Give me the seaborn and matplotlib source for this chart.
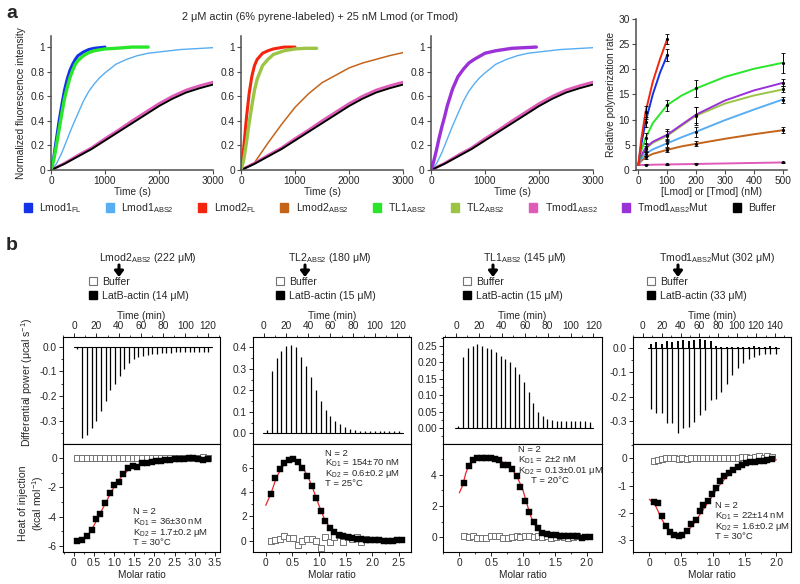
import numpy as np
import pandas as pd
import matplotlib
matplotlib.use("Agg")
import matplotlib.pyplot as plt
import seaborn as sns
from matplotlib.patches import Patch
from matplotlib.lines import Line2D
from matplotlib.ticker import MultipleLocator, FuncFormatter, FormatStrFormatter

# -----------------------------
# Panel a: pyrene-actin polymerization curves (time in s, normalized intensity)
# -----------------------------
lmod1_fl_t = [0, 50, 100, 150, 200, 250, 300, 350, 400, 450, 500, 600, 700, 800, 1000]
lmod1_fl_y = [0, 0.1, 0.25, 0.4, 0.53, 0.65, 0.74, 0.81, 0.86, 0.9, 0.93, 0.96, 0.98, 0.99, 1.0]

tl1_t = [0, 50, 100, 150, 200, 250, 300, 350, 400, 450, 500, 600, 700, 800, 1000, 1200, 1500, 1800]
tl1_y = [0, 0.08, 0.2, 0.33, 0.46, 0.58, 0.67, 0.75, 0.81, 0.86, 0.89, 0.93, 0.955, 0.97, 0.985, 0.99, 1.0, 1.0]

lmod1_abs2_t = [0, 100, 200, 300, 400, 500, 600, 700, 800, 900, 1000, 1200, 1400, 1600, 1800, 2000, 2400, 2800, 3000]
lmod1_abs2_y = [0, 0.05, 0.14, 0.25, 0.36, 0.46, 0.56, 0.64, 0.7, 0.75, 0.79, 0.86, 0.9, 0.93, 0.95, 0.96, 0.98, 0.99, 0.995]

lmod2_fl_t = [0, 25, 50, 75, 100, 150, 200, 250, 300, 400, 500, 600, 800, 1000]
lmod2_fl_y = [0, 0.07, 0.18, 0.3, 0.42, 0.62, 0.76, 0.85, 0.9, 0.95, 0.97, 0.985, 1.0, 1.0]

tl2_t = [0, 50, 100, 150, 200, 250, 300, 400, 500, 600, 800, 1000, 1200, 1400]
tl2_y = [0, 0.08, 0.22, 0.38, 0.52, 0.65, 0.74, 0.85, 0.9, 0.94, 0.97, 0.985, 0.99, 0.99]

slow_t = [0, 250, 500, 750, 1000, 1250, 1500, 1750, 2000, 2250, 2500, 2750, 3000]
lmod2_abs2_y = [0, 0.06, 0.22, 0.37, 0.51, 0.62, 0.71, 0.77, 0.83, 0.87, 0.9, 0.93, 0.955]
buffer_y = [0, 0.05, 0.11, 0.17, 0.24, 0.31, 0.38, 0.45, 0.52, 0.58, 0.63, 0.665, 0.695]
tmod1_abs2_y = [0, 0.055, 0.12, 0.18, 0.255, 0.325, 0.4, 0.47, 0.54, 0.6, 0.65, 0.685, 0.715]

tmod_mut_t = [0, 50, 100, 150, 200, 250, 300, 400, 500, 600, 700, 800, 1000, 1200, 1500, 1950]
tmod_mut_y = [0, 0.07, 0.16, 0.26, 0.35, 0.43, 0.52, 0.66, 0.76, 0.82, 0.87, 0.9, 0.95, 0.97, 0.99, 1.0]

# polymerization rate vs concentration (fitted curves)
conc_fl = [0, 10, 25, 50, 75, 100]
lmod2_fl_rate = [1, 6, 11.5, 17.5, 22, 26]
lmod1_fl_rate = [1, 5, 9.5, 15, 19.3, 22.8]
conc_fit = [0, 10, 25, 50, 100, 150, 200, 300, 400, 500]
tl1_rate = [1, 3.8, 6.3, 9.3, 12.9, 14.8, 16.2, 18.5, 20.1, 21.3]
tmod_mut_rate = [1, 2.8, 4.4, 5.6, 7.0, 9.0, 11.0, 13.8, 15.8, 17.3]
tl2_rate = [1, 2.6, 4.2, 5.4, 6.8, 8.8, 10.8, 13.2, 14.8, 16.0]
lmod1_abs2_rate = [1, 2.2, 3.2, 4.1, 5.3, 6.5, 7.6, 9.9, 12.0, 14.0]
lmod2_abs2_rate = [1, 1.8, 2.5, 3.2, 4.0, 4.7, 5.2, 6.2, 7.1, 7.9]
tmod1_abs2_rate = [1, 1.0, 1.0, 1.05, 1.1, 1.15, 1.2, 1.3, 1.4, 1.5]

# measured points with error bars
pts_fl = [25, 100]
pts = [25, 100, 200, 500]
err_points = {
    "lmod2_fl": (pts_fl, [11.5, 26.0], [1.3, 1.0]),
    "lmod1_fl": (pts_fl, [9.5, 22.8], [1.0, 1.2]),
    "tl1": (pts, [6.3, 12.9, 16.2, 21.3], [1.0, 1.1, 1.7, 2.0]),
    "tmod_mut": (pts, [4.4, 7.0, 11.0, 17.3], [0.8, 1.1, 1.6, 0.7]),
    "tl2": (pts, [4.2, 6.8, 10.8, 16.0], [0.6, 1.0, 1.8, 0.6]),
    "lmod1_abs2": (pts, [3.2, 5.3, 7.6, 14.0], [0.5, 0.8, 1.0, 0.6]),
    "lmod2_abs2": (pts, [2.5, 4.0, 5.2, 7.9], [0.3, 0.4, 0.5, 0.6]),
    "tmod1_abs2": (pts, [1.0, 1.1, 1.2, 1.5], [0.1, 0.1, 0.1, 0.1]),
}

colors = {
    "lmod1_fl": "#1432e6", "lmod1_abs2": "#58aef2", "lmod2_fl": "#f2260f",
    "lmod2_abs2": "#c4641a", "tl1": "#2ae62a", "tl2": "#9cc445",
    "tmod1_abs2": "#e05ab8", "tmod_mut": "#9a32d8", "buffer": "#000000",
}
legend_keys = ["lmod1_fl", "lmod1_abs2", "lmod2_fl", "lmod2_abs2", "tl1", "tl2",
               "tmod1_abs2", "tmod_mut", "buffer"]
legend_labels = ["Lmod1$_{\\mathregular{FL}}$", "Lmod1$_{\\mathregular{ABS2}}$",
                 "Lmod2$_{\\mathregular{FL}}$", "Lmod2$_{\\mathregular{ABS2}}$",
                 "TL1$_{\\mathregular{ABS2}}$", "TL2$_{\\mathregular{ABS2}}$",
                 "Tmod1$_{\\mathregular{ABS2}}$", "Tmod1$_{\\mathregular{ABS2}}$Mut", "Buffer"]

# -----------------------------
# Panel b: ITC data
# -----------------------------
itc_titles = ["Lmod2$_{\\mathregular{ABS2}}$ (222 μM)", "TL2$_{\\mathregular{ABS2}}$ (180 μM)",
              "TL1$_{\\mathregular{ABS2}}$ (145 μM)", "Tmod1$_{\\mathregular{ABS2}}$Mut (302 μM)"]
itc_actin = ["LatB-actin (14 μM)", "LatB-actin (15 μM)", "LatB-actin (15 μM)", "LatB-actin (33 μM)"]

inj_t1 = [3.0, 7.2, 11.4, 15.6, 19.8, 24.0, 28.2, 32.4, 36.6, 40.8, 45.0, 49.2, 53.4, 57.6, 61.8,
          66.0, 70.2, 74.4, 78.6, 82.8, 87.0, 91.2, 95.4, 99.6, 103.8, 108.0, 112.2, 116.4, 120.6]
peak1 = [-0.01, -0.37, -0.36, -0.33, -0.30, -0.26, -0.22, -0.175, -0.15, -0.12, -0.09, -0.065, -0.05,
         -0.042, -0.036, -0.032, -0.03, -0.028, -0.026, -0.025, -0.024, -0.023, -0.022, -0.022,
         -0.021, -0.021, -0.02, -0.02, -0.02]
inj_t2 = [2.8, 7.2, 11.6, 16.0, 20.4, 24.8, 29.2, 33.6, 38.0, 42.4, 46.8, 51.2, 55.6, 60.0, 64.4,
          68.8, 73.2, 77.6, 82.0, 86.4, 90.8, 95.2, 99.6, 104.0, 108.4, 112.8, 117.2, 121.6]
peak2 = [0.015, 0.29, 0.35, 0.385, 0.405, 0.41, 0.40, 0.357, 0.313, 0.26, 0.2, 0.15, 0.11, 0.08,
         0.06, 0.043, 0.03, 0.022, 0.016, 0.013, 0.011, 0.01, 0.01, 0.01, 0.01, 0.01, 0.01, 0.01]
inj_t3 = [2.0, 6.4, 10.5, 14.6, 18.6, 22.7, 26.8, 30.9, 35.0, 39.0, 43.1, 47.2, 51.3, 55.4, 59.4,
          63.5, 67.6, 71.7, 75.8, 79.8, 83.9, 88.0, 92.1, 96.2, 100.2, 104.3, 108.4, 112.5, 116.6]
peak3 = [0.005, 0.215, 0.245, 0.25, 0.255, 0.25, 0.245, 0.24, 0.23, 0.22, 0.21, 0.2, 0.185, 0.165,
         0.14, 0.11, 0.075, 0.05, 0.035, 0.028, 0.025, 0.022, 0.02, 0.02, 0.02, 0.02, 0.02, 0.02, 0.018]
inj_t4 = [8.5, 14.2, 20.0, 25.8, 31.5, 37.2, 43.0, 48.8, 54.5, 60.2, 66.0, 71.8, 77.5, 83.2, 89.0,
          94.8, 100.5, 106.2, 112.0, 117.8, 123.5, 129.2, 135.0, 140.8]
peak4 = [-0.25, -0.27, -0.27, -0.31, -0.31, -0.35, -0.33, -0.325, -0.305, -0.275, -0.255, -0.215,
         -0.21, -0.18, -0.148, -0.11, -0.08, -0.062, -0.044, -0.035, -0.028, -0.025, -0.024, -0.025]
noise4 = [0.02, 0.025, 0.02, 0.03, 0.025, 0.03, 0.035, 0.03, 0.035, 0.04, 0.035, 0.03, 0.01, 0.005,
          0.005, 0.005, 0.005, 0.005, 0.005, 0.01, 0.005, 0.005, 0.01, 0.005]

mr1 = [0.08, 0.21, 0.33, 0.44, 0.55, 0.66, 0.78, 0.9, 1.0, 1.11, 1.23, 1.35, 1.46, 1.57, 1.69, 1.81,
       1.93, 2.05, 2.16, 2.27, 2.39, 2.5, 2.62, 2.73, 2.85, 2.96, 3.08, 3.2, 3.32]
heat1 = [-5.66, -5.6, -5.34, -4.9, -4.2, -3.8, -3.04, -2.4, -1.85, -1.6, -1.05, -0.65, -0.55, -0.6,
         -0.3, -0.3, -0.27, -0.2, -0.2, -0.12, -0.1, -0.05, -0.05, -0.02, 0.0, 0.0, -0.02, -0.15, -0.08]
buf1 = [0, 0, 0, 0, 0, 0, 0, 0, 0, 0, 0, 0, 0, 0, 0.03, 0.0, 0.05, 0.0, 0.03, 0.05, 0.0, 0.05, 0.03,
        0.05, 0.03, 0.0, 0.05, 0.08, 0.0]
fit1_x = [0.05, 0.2, 0.35, 0.5, 0.65, 0.8, 0.95, 1.1, 1.25, 1.4, 1.6, 1.8, 2.1, 2.5, 3.0, 3.4]
fit1_y = [-5.7, -5.6, -5.3, -4.6, -3.8, -3.0, -2.2, -1.55, -1.05, -0.72, -0.45, -0.3, -0.18, -0.08, -0.03, -0.01]

mr2 = [0.09, 0.18, 0.26, 0.35, 0.43, 0.52, 0.6, 0.69, 0.77, 0.86, 0.94, 1.03, 1.11, 1.2, 1.28, 1.37,
       1.45, 1.54, 1.62, 1.71, 1.79, 1.88, 1.96, 2.05, 2.13, 2.22, 2.3, 2.39, 2.47, 2.56]
heat2 = [3.85, 5.18, 5.93, 6.36, 6.66, 6.7, 6.5, 6.0, 5.3, 4.5, 3.5, 2.4, 1.6, 1.05, 0.7, 0.5, 0.35,
         0.28, 0.2, 0.15, 0.1, 0.05, 0.05, 0.03, 0.02, 0.0, 0.0, 0.0, 0.02, 0.05]
buf2 = [0.0, 0.05, 0.1, 0.4, 0.25, 0.25, -0.4, 0.0, 0.1, 0.1, 0.0, -0.6, 0.3, -0.1, 0.3, 0.5, -0.15,
        0.3, 0.1, 0.3, -0.15, 0.1]
fit2_x = [0.0, 0.1, 0.2, 0.3, 0.4, 0.5, 0.6, 0.7, 0.8, 0.9, 1.0, 1.1, 1.2, 1.3, 1.4, 1.6, 1.8, 2.0, 2.3, 2.6]
fit2_y = [2.9, 3.9, 5.2, 6.0, 6.5, 6.7, 6.5, 6.0, 5.2, 4.1, 2.9, 1.8, 1.1, 0.7, 0.45, 0.2, 0.1, 0.05, 0.02, 0.01]

mr3 = [0.08, 0.15, 0.22, 0.28, 0.35, 0.42, 0.49, 0.56, 0.62, 0.69, 0.76, 0.83, 0.9, 0.96, 1.03, 1.1,
       1.17, 1.24, 1.3, 1.37, 1.44, 1.51, 1.58, 1.64, 1.71, 1.78, 1.85, 1.92, 1.98, 2.05]
heat3 = [3.45, 4.6, 4.95, 5.05, 5.1, 5.05, 5.05, 5.0, 4.95, 4.65, 4.65, 4.35, 3.95, 3.25, 2.35, 1.6,
         1.0, 0.6, 0.3, 0.22, 0.15, 0.12, 0.1, 0.08, 0.08, 0.06, 0.08, -0.08, 0.02, 0.02]
buf3 = [0.05, 0.0, 0.05, -0.08, -0.05, -0.05, 0.05, 0.08, 0.05, -0.05, -0.05, 0.0, 0.05, 0.0, 0.05,
        0.05, 0.0, 0.05, 0.0, 0.05, -0.05, 0.0, 0.05, 0.0, -0.05, 0.0, 0.05]
fit3_x = [0.0, 0.05, 0.1, 0.15, 0.2, 0.3, 0.4, 0.5, 0.6, 0.7, 0.8, 0.9, 1.0, 1.05, 1.1, 1.15, 1.2,
          1.3, 1.4, 1.6, 1.8, 2.05]
fit3_y = [2.85, 3.3, 4.1, 4.6, 4.85, 5.05, 5.08, 5.05, 4.95, 4.78, 4.5, 3.95, 3.0, 2.3, 1.6, 1.05,
          0.7, 0.32, 0.18, 0.08, 0.04, 0.02]

mr4 = [0.07, 0.13, 0.2, 0.26, 0.33, 0.39, 0.46, 0.52, 0.59, 0.66, 0.73, 0.79, 0.85, 0.92, 0.98, 1.05,
       1.11, 1.18, 1.25, 1.32, 1.39, 1.46, 1.52, 1.59, 1.66, 1.73, 1.8, 1.86, 1.93]
heat4 = [-1.6, -1.65, -2.1, -2.5, -2.7, -2.8, -2.87, -2.82, -2.68, -2.4, -2.25, -1.92, -1.7, -1.55,
         -1.32, -1.1, -0.82, -0.65, -0.55, -0.42, -0.32, -0.24, -0.18, -0.15, -0.13, -0.1, -0.08,
         -0.06, -0.02]
buf4 = [-0.08, -0.05, -0.03, 0.0, 0.0, 0.0, -0.02, 0.02, -0.03, 0.0, 0.02, 0.03, 0.02, 0.0, 0.02,
        0.02, 0.03, 0.0, 0.02, 0.02, 0.03, 0.05, 0.05, 0.03, 0.05, 0.08, 0.03, 0.08, 0.05]
fit4_x = [0.0, 0.1, 0.2, 0.3, 0.4, 0.5, 0.6, 0.7, 0.8, 0.9, 1.0, 1.1, 1.2, 1.3, 1.4, 1.6, 1.8, 2.0]
fit4_y = [-1.5, -1.75, -2.25, -2.65, -2.85, -2.85, -2.68, -2.4, -2.05, -1.7, -1.35, -1.0, -0.72,
          -0.5, -0.35, -0.18, -0.1, -0.05]

itc_stats = [
    ["N = 2", "K$_{\\mathregular{D1}}$ = 36±30 nM", "K$_{\\mathregular{D2}}$ = 1.7±0.2 μM", "T = 30°C"],
    ["N = 2", "K$_{\\mathregular{D1}}$ = 154±70 nM", "K$_{\\mathregular{D2}}$ = 0.6±0.2 μM", "T = 25°C"],
    ["N = 2", "K$_{\\mathregular{D1}}$ = 2±2 nM", "K$_{\\mathregular{D2}}$ = 0.13±0.01 μM", "     T = 20°C"],
    ["N = 2", "K$_{\\mathregular{D1}}$ = 22±14 nM", "K$_{\\mathregular{D2}}$ = 1.6±0.2 μM", "T = 30°C"],
]

# -----------------------------
# Style
# -----------------------------
sns.set_theme(style="ticks")
plt.rcParams['font.family'] = ['Liberation Sans', 'DejaVu Sans']
plt.rcParams['mathtext.fontset'] = 'custom'
plt.rcParams['mathtext.rm'] = 'Liberation Sans'
plt.rcParams['axes.unicode_minus'] = False
FS = 7.3
plt.rcParams.update({'font.size': FS, 'xtick.labelsize': FS, 'ytick.labelsize': FS,
                     'axes.labelsize': FS, 'legend.fontsize': FS})

W, H = 800, 584
fig = plt.figure(figsize=(8, 5.84), dpi=100)


def px_axes(x0, y0, x1, y1):
    return fig.add_axes([x0 / W, 1 - y1 / H, (x1 - x0) / W, (y1 - y0) / H])


def ftext(x, y, s, **kw):
    return fig.text(x / W, 1 - y / H, s, **kw)


def style_a(ax):
    sns.despine(ax=ax)
    for sp in ["left", "bottom"]:
        ax.spines[sp].set_color("0.3")
        ax.spines[sp].set_linewidth(1.1)
    ax.tick_params(direction="out", length=3, width=0.8, color="0.3", pad=1.5)


ftext(6, 14, "a", fontsize=14, fontweight="bold", va="center")
ftext(320, 17, "2 μM actin (6% pyrene-labeled) + 25 nM Lmod (or Tmod)", fontsize=7.8,
      ha="center", va="center")

ax1 = px_axes(51, 36, 213, 170)
ax2 = px_axes(241, 36, 403, 170)
ax3 = px_axes(431, 36, 593, 170)
ax4 = px_axes(636, 19, 787, 170)

curves = {
    ax1: [(lmod1_abs2_t, lmod1_abs2_y, "lmod1_abs2", 1.0), (slow_t, tmod1_abs2_y, "tmod1_abs2", 2.0),
          (slow_t, buffer_y, "buffer", 1.4), (lmod1_fl_t, lmod1_fl_y, "lmod1_fl", 2.2),
          (tl1_t, tl1_y, "tl1", 2.4)],
    ax2: [(slow_t, lmod2_abs2_y, "lmod2_abs2", 1.1), (slow_t, tmod1_abs2_y, "tmod1_abs2", 2.0),
          (slow_t, buffer_y, "buffer", 1.4), (lmod2_fl_t, lmod2_fl_y, "lmod2_fl", 2.2),
          (tl2_t, tl2_y, "tl2", 2.4)],
    ax3: [(lmod1_abs2_t, lmod1_abs2_y, "lmod1_abs2", 1.0), (slow_t, tmod1_abs2_y, "tmod1_abs2", 2.0),
          (slow_t, buffer_y, "buffer", 1.4), (tmod_mut_t, tmod_mut_y, "tmod_mut", 2.4)],
}
for ax, items in curves.items():
    for t, y, key, lw in items:
        sns.lineplot(x=t, y=y, ax=ax, color=colors[key], linewidth=lw)
    style_a(ax)
    ax.set_xlim(0, 3000)
    ax.set_ylim(0, 1.09)
    ax.set_xticks([0, 1000, 2000, 3000])
    ax.set_yticks([0, 0.2, 0.4, 0.6, 0.8, 1.0])
    ax.set_yticklabels(["0", "0.2", "0.4", "0.6", "0.8", "1"])
    ax.set_xlabel("Time (s)", labelpad=0.5)
    ax.set_ylabel("")
ax1.set_ylabel("Normalized fluorescence intensity", labelpad=3)

rate_curves = [(conc_fit, tmod1_abs2_rate, "tmod1_abs2"), (conc_fit, lmod2_abs2_rate, "lmod2_abs2"),
               (conc_fit, lmod1_abs2_rate, "lmod1_abs2"), (conc_fit, tl2_rate, "tl2"),
               (conc_fit, tmod_mut_rate, "tmod_mut"), (conc_fit, tl1_rate, "tl1"),
               (conc_fl, lmod1_fl_rate, "lmod1_fl"), (conc_fl, lmod2_fl_rate, "lmod2_fl")]
for x, y, key in rate_curves:
    sns.lineplot(x=x, y=y, ax=ax4, color=colors[key], linewidth=1.4)
for key, (x, y, e) in err_points.items():
    ax4.errorbar(x, y, yerr=e, fmt="o", ms=1.3, color="black", elinewidth=0.7, capsize=1.2,
                 capthick=0.6, zorder=5)
style_a(ax4)
ax4.set_xlim(-8, 515)
ax4.set_ylim(0, 30)
ax4.set_xticks([0, 100, 200, 300, 400, 500])
ax4.set_yticks([0, 5, 10, 15, 20, 25, 30])
ax4.set_xlabel("[Lmod] or [Tmod] (nM)", labelpad=0.5)
ax4.set_ylabel("Relative polymerization rate", labelpad=2)

handles = [Patch(facecolor=colors[k], edgecolor=colors[k]) for k in legend_keys]
fig.legend(handles, legend_labels, loc="center", bbox_to_anchor=(400 / W, 1 - 208 / H), ncol=9,
           frameon=False, handlelength=0.75, handleheight=0.9, handletextpad=0.7,
           columnspacing=2.3, fontsize=7.6)

# -----------------------------
# Panel b
# -----------------------------
ftext(6, 246, "b", fontsize=14, fontweight="bold", va="center")

cols = [(63, 220), (253, 411), (443, 602), (633, 791)]
top_xlim = [(-10, 131), (-9.5, 132.2), (-11.4, 127.5), (-10.3, 157)]
top_ylim = [(-0.395, 0.04), (-0.049, 0.448), (-0.049, 0.277), (-0.397, 0.047)]
top_major = [0.1, 0.1, 0.05, 0.1]
top_fmt = ["%.1f", "%.1f", "%.2f", "%.1f"]
bot_xlim = [(-0.27, 3.63), (-0.24, 2.73), (-0.257, 2.24), (-0.257, 2.23)]
bot_ylim = [(-6.43, 0.98), (-0.94, 7.95), (-0.95, 5.98), (-3.44, 0.53)]
bot_major = [2, 2, 2, 1]
inj_t = [inj_t1, inj_t2, inj_t3, inj_t4]
peaks = [peak1, peak2, peak3, peak4]
mrs = [mr1, mr2, mr3, mr4]
heats = [heat1, heat2, heat3, heat4]
bufs = [buf1, buf2, buf3, buf4]
fits = [(fit1_x, fit1_y), (fit2_x, fit2_y), (fit3_x, fit3_y), (fit4_x, fit4_y)]
title_x = [148, 330, 525, 717]
arrow_x = [119, 305, 493, 678]
square_x = [95, 282, 469, 653]
stat_pos = [(133, 512), (325, 453), (518, 450), (715, 506)]


def style_b(ax):
    for sp in ax.spines.values():
        sp.set_visible(True)
        sp.set_color("black")
        sp.set_linewidth(0.8)
    ax.tick_params(which="major", direction="out", length=3, width=0.7, pad=1.5)
    ax.tick_params(which="minor", direction="out", length=1.6, width=0.6)


ratio_fmt = FuncFormatter(lambda v, _: "0" if abs(v) < 1e-9 else "%.1f" % v)

for i, (x0, x1) in enumerate(cols):
    at = px_axes(x0, 337, x1, 444)
    ab = px_axes(x0, 444, x1, 552)

    # thermogram
    t = inj_t[i]
    at.plot([t[0] - 3, t[-1] + 3], [0, 0], color="black", lw=0.8)
    at.vlines(t, 0, peaks[i], color="black", lw=0.9)
    if i == 3:
        at.vlines(t, 0, noise4, color="black", lw=1.4)
    style_b(at)
    at.set_xlim(*top_xlim[i])
    at.set_ylim(*top_ylim[i])
    at.xaxis.tick_top()
    at.xaxis.set_label_position("top")
    at.xaxis.set_major_locator(MultipleLocator(20))
    at.xaxis.set_minor_locator(MultipleLocator(10))
    at.yaxis.set_major_locator(MultipleLocator(top_major[i]))
    at.yaxis.set_minor_locator(MultipleLocator(top_major[i] / 2))
    at.yaxis.set_major_formatter(FormatStrFormatter(top_fmt[i]))
    at.set_xlabel("Time (min)", labelpad=1.5)
    at.tick_params(axis="x", which="both", bottom=False, top=True)

    # binding isotherm
    sns.scatterplot(x=mrs[i][:len(bufs[i])], y=bufs[i], ax=ab, marker="s", s=13, color="white",
                    edgecolor="0.45", linewidth=0.7, zorder=3)
    sns.lineplot(x=fits[i][0], y=fits[i][1], ax=ab, color="#e8262a", linewidth=0.9, zorder=2)
    sns.scatterplot(x=mrs[i], y=heats[i], ax=ab, marker="s", s=14, color="black",
                    edgecolor="black", linewidth=0.3, zorder=4)
    style_b(ab)
    ab.set_xlim(*bot_xlim[i])
    ab.set_ylim(*bot_ylim[i])
    ab.xaxis.set_major_locator(MultipleLocator(0.5))
    ab.xaxis.set_minor_locator(MultipleLocator(0.25))
    ab.xaxis.set_major_formatter(ratio_fmt)
    ab.yaxis.set_major_locator(MultipleLocator(bot_major[i]))
    ab.yaxis.set_minor_locator(MultipleLocator(bot_major[i] / 2))
    ab.tick_params(axis="x", which="both", top=False, bottom=True)
    ab.set_xlabel("Molar ratio", labelpad=1)
    ab.set_ylabel("")

    # header: title, arrow, legend
    ftext(title_x[i], 258, itc_titles[i], ha="center", va="center", fontsize=7.6)
    at.annotate("", xy=(arrow_x[i], H - 277), xytext=(arrow_x[i], H - 265),
                xycoords="figure pixels", textcoords="figure pixels", annotation_clip=False,
                arrowprops=dict(arrowstyle="-|>,head_width=0.35,head_length=0.45", lw=2.2,
                                color="black", shrinkA=0, shrinkB=0))
    hs = [Line2D([], [], marker="s", ls="none", mfc="white", mec="0.45", ms=6.2, mew=0.8),
          Line2D([], [], marker="s", ls="none", mfc="black", mec="black", ms=6.2)]
    fig.legend(hs, ["Buffer", itc_actin[i]], loc="upper left",
               bbox_to_anchor=((square_x[i] - 7) / W, 1 - 277 / H), frameon=False,
               borderaxespad=0, borderpad=0, handlelength=1.0, handletextpad=0.35,
               labelspacing=0.35, fontsize=7.6)

    # fit parameters
    sx, sy = stat_pos[i]
    for j, line in enumerate(itc_stats[i]):
        ftext(sx, sy + j * 10.3, line, ha="left", va="center", fontsize=6.8)

ftext(27, 382, "Differential power (μcal s$^{\\mathregular{-1}}$)", rotation=90, ha="center",
      va="center", fontsize=7.6)
ftext(32, 503, "Heat of injection\n(kcal mol$^{\\mathregular{-1}}$)", rotation=90, ha="center",
      va="center", fontsize=7.6, linespacing=1.2)

fig.savefig("out.png", dpi=100)
